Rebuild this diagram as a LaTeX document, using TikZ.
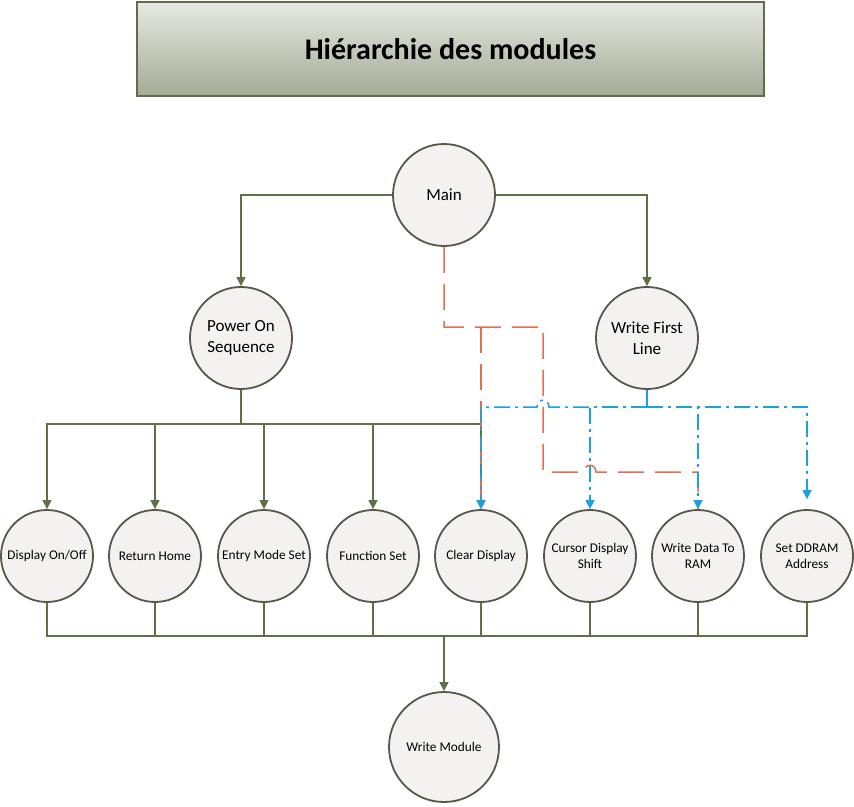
\documentclass[tikz,border=0pt]{standalone}
\usepackage{fontspec}
\setmainfont{Carlito}
\usetikzlibrary{arrows.meta}
\definecolor{olive}{HTML}{5E7146}
\definecolor{cborder}{HTML}{5A5648}
\definecolor{cfill}{HTML}{F3F2F0}
\definecolor{redd}{HTML}{E2704F}
\definecolor{blued}{HTML}{1BA1DB}
\definecolor{ttop}{HTML}{E6E9E2}
\definecolor{tbot}{HTML}{A3AB95}
\definecolor{tborder}{HTML}{5F6D4A}
\tikzset{
  modbig/.style={circle,draw=cborder,line width=1.8pt,fill=cfill,minimum size=102pt,inner sep=0pt,align=center,font=\fontsize{17}{21}\selectfont},
  modsmall/.style={circle,draw=cborder,line width=1.8pt,fill=cfill,minimum size=92pt,inner sep=0pt,align=center,font=\fontsize{13.3}{15.5}\selectfont},
  gline/.style={draw=olive,line width=1.4pt},
  garrow/.style={gline,-{Triangle[length=9pt,width=9pt]}},
  rline/.style={draw=redd,line width=1.5pt,dash pattern=on 26pt off 11pt},
  bline/.style={draw=blued,line width=1.5pt,dash pattern=on 16pt off 5pt on 3pt off 5pt},
  barrow/.style={bline,-{Triangle[length=9pt,width=9pt]}},
}
\begin{document}
\begin{tikzpicture}[x=1pt,y=-1pt]
\useasboundingbox (0,0) rectangle (854,806);
\fill[white] (0,0) rectangle (854,806);
% title
\node[draw=tborder,line width=1.6pt,top color=ttop,bottom color=tbot,minimum width=627pt,minimum height=94pt,inner sep=0pt,font=\fontsize{30}{34}\selectfont\bfseries] (title) at (450.5,49) {Hiérarchie des modules};
% nodes
\node[modbig] (main) at (444,195) {Main};
\node[modbig] (pos) at (241,338) {Power On\\Sequence};
\node[modbig] (wfl) at (647,338) {Write First\\Line};
\node[modsmall] (b1) at (47,556) {Display On/Off};
\node[modsmall] (b2) at (155,556) {Return Home};
\node[modsmall] (b3) at (264,556) {Entry Mode Set};
\node[modsmall] (b4) at (373,556) {Function Set};
\node[modsmall] (b5) at (481,556) {Clear Display};
\node[modsmall] (b6) at (590,556) {Cursor Display\\Shift};
\node[modsmall] (b7) at (698,556) {Write Data To\\RAM};
\node[modsmall] (b8) at (807,556) {Set DDRAM\\Address};
\node[modsmall,minimum size=110pt] (wm) at (444,747) {Write Module};
% green connectors
\draw[garrow] (main.west) -| (pos.north);
\draw[garrow] (main.east) -| (wfl.north);
\coordinate (busT) at (241,424);
\draw[gline] (pos.south) -- (busT);
\foreach \n in {b1,b2,b3,b4,b5}{\draw[garrow] (busT) -| (\n.north);}
\coordinate (busB) at (444,636);
\foreach \n in {b1,b2,b3,b4,b5,b6,b7,b8}{\draw[gline] (\n.south) |- (busB);}
\draw[garrow] (busB) -- (wm.north);
% red dashed connectors
\coordinate (rA) at (481,327);
\coordinate (rB) at (543,327);
\coordinate (rC) at (543,472);
\coordinate (rH1) at (584,472);
\coordinate (rH2) at (596,472);
\coordinate (rD) at (698,472);
\draw[rline] (main.south) |- (rB) -- (rC) -- (rH1) .. controls (584,463) and (596,463) .. (rH2) -- (rD) -- (b7.north);
\draw[rline] (rA) -- (b5.north);
% blue dash-dot connectors
\coordinate (bT) at (647,407);
\coordinate (bH1) at (549,407);
\coordinate (bH2) at (537,407);
\coordinate (bL) at (481,407);
\draw[bline] (wfl.south) -- (bT);
\draw[barrow] (bT) -- (bH1) .. controls (549,398) and (537,398) .. (bH2) -- (bL) -- (b5.north);
\draw[barrow] (bT) -| (b6.north);
\draw[barrow] (bT) -| (b7.north);
\draw[barrow] (bT) -| ([yshift=10pt]b8.north);
\end{tikzpicture}
\end{document}
